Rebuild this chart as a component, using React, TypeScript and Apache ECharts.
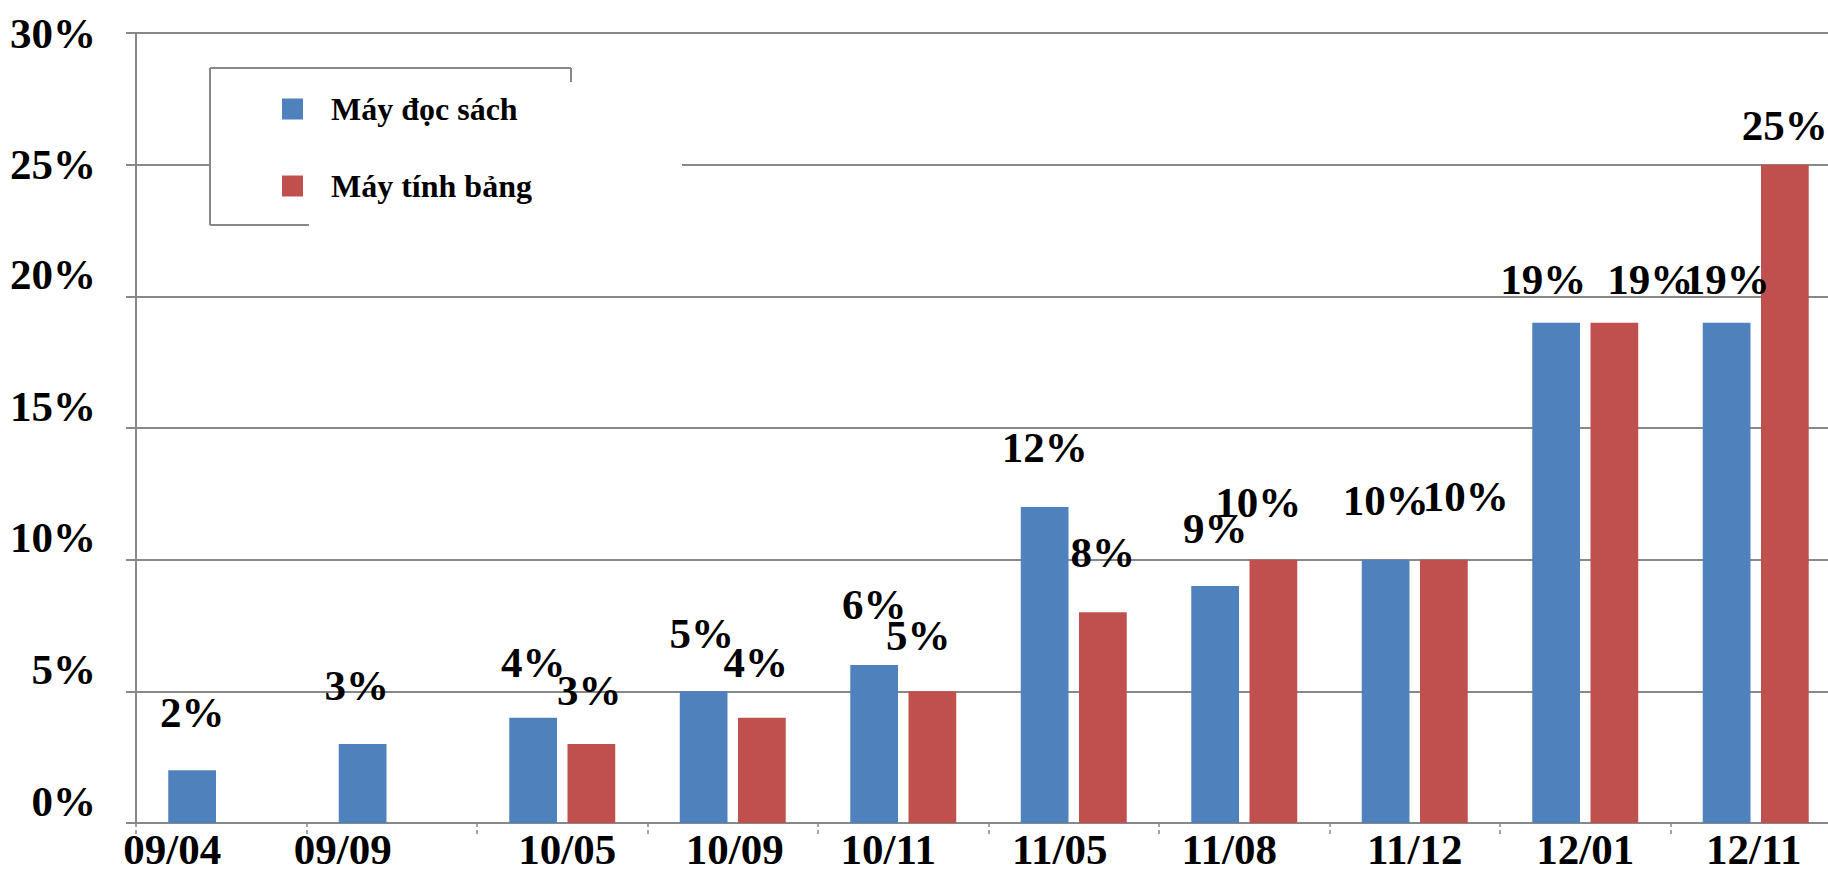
import React, { useEffect, useRef } from "react";
import * as echarts from "echarts";

const categories = ["09/04", "09/09", "10/05", "10/09", "10/11", "11/05", "11/08", "11/12", "12/01", "12/11"];
const seriesNames = ["Máy đọc sách", "Máy tính bảng"];
const ebookReader = [2, 3, 4, 5, 6, 12, 9, 10, 19, 19];
const tablet = [null, null, 3, 4, 5, 8, 10, 10, 19, 25];
const yTicks = [0, 5, 10, 15, 20, 25, 30];

// label nudges (style only): [dx, dy] in pixels
const blueNudge = [[0, 0], [-6, -1], [0, 2], [-2, 0], [0, -3], [0, -2], [0, 0], [0, -2], [-13, 14], [0, 14]];
const redNudge = [[0, 0], [0, 0], [-2, 4], [-6, 2], [-14, 2], [0, -2], [-15, 0], [22, -6], [36, 14], [0, 18]];
const xLabelShift = [-49, -49, 5, 2, -15, -14, -15, 0, 0, -2];

const FONT = "'Liberation Serif', 'Times New Roman', serif";
const GRID = "#888888";

function buildData(values: (number | null)[], nudges: number[][]) {
  return values.map((v, i) =>
    v === null
      ? null
      : { value: v, label: { offset: nudges[i] } }
  );
}

export default function App() {
  const ref = useRef<HTMLDivElement>(null);
  useEffect(() => {
    if (!ref.current) return;
    const chart = echarts.init(ref.current, null, { renderer: "svg" });
    const rich: any = {};
    xLabelShift.forEach((s, i) => {
      rich["x" + i] = {
        fontFamily: FONT,
        fontWeight: "bold",
        fontSize: 43,
        color: "#000",
        padding: s < 0 ? [0, -2 * s, 0, 0] : [0, 0, 0, 2 * s],
      };
    });
    const labelStyle = {
      show: true,
      position: "top",
      distance: 36,
      formatter: "{c}%",
      fontFamily: FONT,
      fontWeight: "bold",
      fontSize: 43,
      color: "#000",
    };
    chart.setOption({
      animation: false,
      backgroundColor: "#fff",
      grid: { left: 136, right: 0, top: 33, bottom: 46, containLabel: false },
      legend: {
        show: true,
        z: 10,
        orient: "vertical",
        left: 277,
        top: 88,
        itemWidth: 21,
        itemHeight: 21,
        itemGap: 45,
        icon: "rect",
        selectedMode: false,
        data: seriesNames,
        textStyle: {
          fontFamily: FONT,
          fontWeight: "bold",
          fontSize: 32,
          lineHeight: 21,
          color: "#000",
          padding: [0, 0, 0, 23],
        },
      },
      graphic: {
        elements: [
          { type: "rect", z: 5, shape: { x: 210, y: 68, width: 472, height: 157 }, style: { fill: "#fff" } },
          { type: "line", z: 6, shape: { x1: 210, y1: 68, x2: 571, y2: 68 }, style: { stroke: GRID, lineWidth: 2 } },
          { type: "line", z: 6, shape: { x1: 571, y1: 68, x2: 571, y2: 82 }, style: { stroke: GRID, lineWidth: 2 } },
          { type: "line", z: 6, shape: { x1: 210, y1: 68, x2: 210, y2: 225 }, style: { stroke: GRID, lineWidth: 2 } },
          { type: "line", z: 6, shape: { x1: 210, y1: 225, x2: 309, y2: 225 }, style: { stroke: GRID, lineWidth: 2 } },
        ],
      },
      xAxis: {
        type: "category",
        data: categories,
        axisLine: { show: true, lineStyle: { color: GRID, width: 2 } },
        axisTick: { show: true, length: 14, lineStyle: { color: GRID, width: 1.5, type: [4, 3] } },
        axisLabel: {
          interval: 0,
          margin: 5,
          formatter: (v: string) => `{x${categories.indexOf(v)}|${v}}`,
          rich,
        },
      },
      yAxis: {
        type: "value",
        min: 0,
        max: 30,
        interval: 5,
        axisLine: { show: true, lineStyle: { color: GRID, width: 2 } },
        axisTick: { show: true, length: 10, lineStyle: { color: GRID, width: 2 } },
        splitLine: { show: true, lineStyle: { color: GRID, width: 2 } },
        axisLabel: {
          margin: 40,
          formatter: (v: number) => (yTicks.indexOf(v) >= 5 ? `{a|${v}%}` : `{b|${v}%}`),
          rich: {
            a: { fontFamily: FONT, fontWeight: "bold", fontSize: 43, color: "#000" },
            b: { fontFamily: FONT, fontWeight: "bold", fontSize: 43, color: "#000", padding: [0, 0, 44, 0] },
          },
        },
      },
      series: [
        {
          name: seriesNames[0],
          type: "bar",
          barWidth: "28%",
          barGap: "22%",
          itemStyle: { color: "#4F81BD" },
          label: labelStyle,
          data: buildData(ebookReader, blueNudge),
        },
        {
          name: seriesNames[1],
          type: "bar",
          barWidth: "28%",
          barGap: "22%",
          itemStyle: { color: "#C0504D" },
          label: labelStyle,
          data: buildData(tablet, redNudge),
        },
      ],
    });
    return () => chart.dispose();
  }, []);
  return (
    <div style={{ position: "fixed", left: 0, top: 0, width: 1828, height: 871, overflow: "hidden" }}>
      <div ref={ref} style={{ width: 1841, height: 871 }} />
    </div>
  );
}
